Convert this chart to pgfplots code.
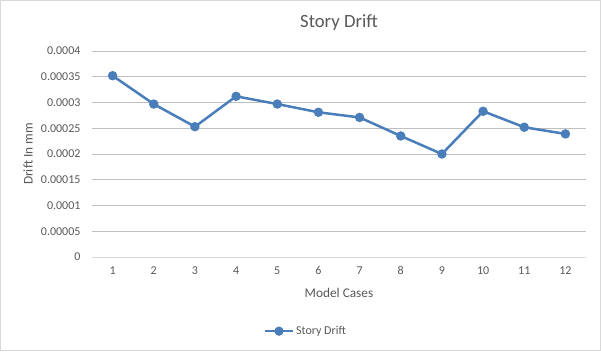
\documentclass[border=0pt]{standalone}
\usepackage{pgfplots}
\pgfplotsset{compat=1.18}
\usepackage{fontspec}
\setmainfont{Carlito}
\definecolor{txt}{HTML}{595959}
\definecolor{grid}{HTML}{D9D9D9}
\definecolor{series}{HTML}{4A7EBB}
\begin{document}
\begin{tikzpicture}[x=1bp,y=1bp]
\useasboundingbox (0,0) rectangle (601,351);
\fill[white] (0,0) rectangle (601,351);
\draw[grid,line width=0.75bp] (0.4,0.4) rectangle (600.6,350.6);
\begin{axis}[
  at={(92bp,94bp)}, anchor=south west,
  scale only axis, width=494bp, height=206bp,
  xmin=0.5, xmax=12.5, ymin=0, ymax=0.0004,
  xtick={1,...,12},
  ytick={0,0.00005,0.0001,0.00015,0.0002,0.00025,0.0003,0.00035,0.0004},
  yticklabels={0,0.00005,0.0001,0.00015,0.0002,0.00025,0.0003,0.00035,0.0004},
  scaled y ticks=false,
  axis line style={draw=none},
  xtick style={draw=none}, ytick style={draw=none},
  xmajorgrids=false,
  ymajorgrids, grid style={grid, line width=0.75bp},
  tick label style={font=\fontsize{12bp}{14bp}\selectfont, text=txt},
  xticklabel style={yshift=-6bp},
  yticklabel style={xshift=-8bp},
  /pgf/number format/assume math mode=true,
  title={Story Drift},
  title style={font=\fontsize{18.7bp}{22bp}\selectfont, text=txt, at={(0.5,1)}, anchor=center, yshift=22bp},
  xlabel={Model Cases},
  ylabel={Drift In mm},
  label style={font=\fontsize{13.3bp}{16bp}\selectfont, text=txt},
  xlabel style={at={(0.5,0)}, anchor=center, yshift=-36bp},
  ylabel style={at={(-0.1296,0.5)}, anchor=center},
  legend style={font=\fontsize{12bp}{14bp}\selectfont, text=txt, draw=none, fill=none,
    at={(0.433,-0.36)}, anchor=center},
  legend image code/.code={
    \draw[series, line width=2.25bp] (0bp,0bp) -- (28bp,0bp);
    \fill[series] (14bp,0bp) circle (3.3bp);
  },
  clip=false,
]
\draw[grid, line width=0.75bp] (rel axis cs:0,0) -- (rel axis cs:1,0);
\addplot[series, line width=2.5bp, mark=*, mark size=3.4bp, mark options={fill=series, draw=series}]
coordinates {
(1,0.000352) (2,0.000297) (3,0.000253) (4,0.000312) (5,0.000297) (6,0.000281)
(7,0.000271) (8,0.000235) (9,0.000200) (10,0.000283) (11,0.000252) (12,0.000239)
};
\addlegendentry{Story Drift}
\end{axis}
\end{tikzpicture}
\end{document}
